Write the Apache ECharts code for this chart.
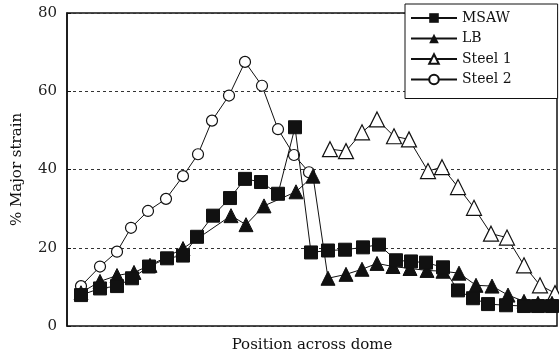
<!DOCTYPE html>
<html>
<head>
<meta charset="utf-8">
<script src="https://cdn.jsdelivr.net/npm/echarts@6/dist/echarts.min.js"></script>
<style>html,body{margin:0;padding:0;background:#fff}#c{width:559px;height:358px}</style>
</head>
<body>
<div id="c"></div>
<script>
var msawX = [14,33,50,65,82,100,116,130,146,163,178,194,211,228,244,261,278,296,312,329,344,359,376,391,406,421,439,457,471,485];
var msawY = [7.9,9.6,10.2,12.2,15.2,17.3,18.0,22.8,28.2,32.7,37.6,36.8,33.8,50.8,18.8,19.3,19.5,20.1,20.8,16.8,16.5,16.2,15.0,9.1,7.1,5.6,5.3,5.1,5.1,5.1];
var lbX = [14,33,50,67,83,116,164,179,197,229,246,261,279,295,310,326,343,360,376,392,409,425,441,457,471,485];
var lbY = [8.5,11.4,12.9,13.7,15.5,19.8,28.2,25.9,30.7,34.3,38.3,12.2,13.2,14.5,16,15.2,14.7,14.2,14,13.5,10.4,10.2,7.9,6.3,5.8,5.8];
var steel1X = [263,279,295,310,327,342,361,375,391,407,424,440,457,473,488];
var steel1Y = [45.2,44.7,49.5,52.8,48.5,47.7,39.6,40.6,35.5,30.2,23.6,22.6,15.5,10.4,8.4];
var steel2X = [14,33,50,64,81,99,116,131,145,162,178,195,211,227,242];
var steel2Y = [10.2,15.2,19.0,25.1,29.4,32.5,38.3,43.9,52.5,58.9,67.5,61.4,50.3,43.7,39.3];
var yTicks = [0,20,40,60,80];
var seriesNames = ['MSAW','LB','Steel 1','Steel 2'];

function pairs(xs, ys){ return xs.map(function(x,i){ return [x, ys[i]]; }); }
var font = '"DejaVu Serif","Liberation Serif",serif';
var chart = echarts.init(document.getElementById('c'), null, {renderer:'canvas'});
chart.setOption({
  animation:false,
  backgroundColor:'#fff',
  grid:{left:67,right:2,top:13,bottom:30,show:true,borderColor:'#111',borderWidth:1.5,backgroundColor:'transparent'},
  legend:{
    orient:'vertical', left:405, top:4,
    data:seriesNames,
    backgroundColor:'#fff', borderColor:'#111', borderWidth:1,
    padding:[7,46,12,5], itemWidth:46, itemHeight:12, itemGap:6.5,
    textStyle:{fontFamily:font,fontSize:14,color:'#111'}
  },
  xAxis:{
    type:'value', min:0, max:490,
    axisLine:{show:false}, axisTick:{show:false}, axisLabel:{show:false}, splitLine:{show:false},
    name:'Position across dome', nameLocation:'middle', nameGap:12,
    nameTextStyle:{fontFamily:font,fontSize:15,color:'#111'}
  },
  yAxis:{
    type:'value', min:yTicks[0], max:yTicks[yTicks.length-1], interval:20,
    axisLine:{show:true,lineStyle:{color:'#111',width:1.5}},
    axisTick:{show:true,inside:true,length:4,lineStyle:{color:'#111'}},
    axisLabel:{fontFamily:font,fontSize:15,color:'#222',margin:10},
    splitLine:{show:true,lineStyle:{color:'#333',width:1,type:[3,3]}},
    name:'% Major strain', nameLocation:'middle', nameGap:42, nameRotate:90,
    nameTextStyle:{fontFamily:font,fontSize:15,color:'#111'}
  },
  series:[
    {name:'Steel 2',type:'line',data:pairs(steel2X,steel2Y),symbol:'circle',symbolSize:11,
     lineStyle:{color:'#111',width:1},itemStyle:{color:'#fff',borderColor:'#111',borderWidth:1.2},z:2},
    {name:'Steel 1',type:'line',data:pairs(steel1X,steel1Y),symbol:'triangle',symbolSize:15,
     lineStyle:{color:'#111',width:1},itemStyle:{color:'#fff',borderColor:'#111',borderWidth:1.2},z:2},
    {name:'LB',type:'line',data:pairs(lbX,lbY),symbol:'triangle',symbolSize:14,
     lineStyle:{color:'#111',width:1},itemStyle:{color:'#111',borderColor:'#111'},z:3},
    {name:'MSAW',type:'line',data:pairs(msawX,msawY),symbol:'rect',symbolSize:13,
     lineStyle:{color:'#111',width:1},itemStyle:{color:'#111',borderColor:'#111'},z:4}
  ]
});
</script>
</body>
</html>
